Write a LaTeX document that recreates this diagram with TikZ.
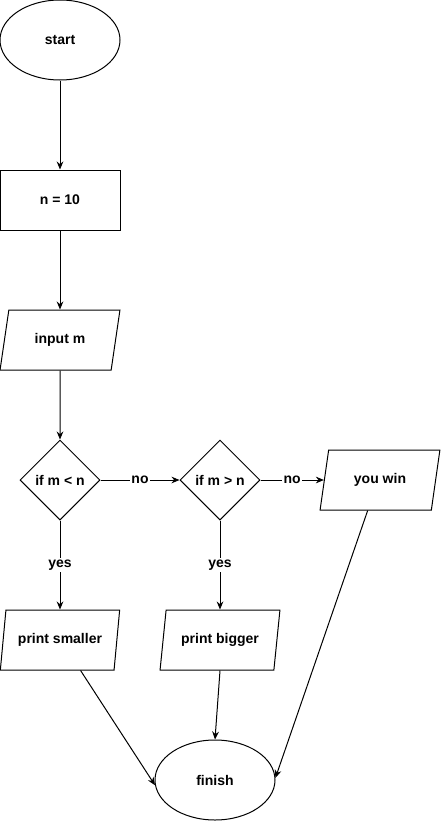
\documentclass[tikz,border=0pt]{standalone}
\usepackage{fontspec}
\setmainfont{Liberation Sans}
\usepackage{tikz}
\usetikzlibrary{arrows.meta,shapes.geometric}

\begin{document}
\begin{tikzpicture}[x=0.75pt, y=-0.75pt, line width=0.75pt,
    font=\fontsize{10.5}{12}\selectfont\bfseries,
    every node/.style={inner sep=0pt},
    term/.style={draw, ellipse, minimum width=90pt, minimum height=60pt},
    proc/.style={draw, rectangle, minimum width=90pt, minimum height=45pt},
    io/.style={draw, trapezium, trapezium left angle=71.57, trapezium right angle=108.43,
               trapezium stretches=true, minimum width=90pt, minimum height=45pt},
    cond/.style={draw, diamond, minimum width=60pt, minimum height=60pt},
    lbl/.style={fill=white, inner sep=1pt},
    arr/.style={-{Stealth[length=6pt,width=5pt]}}]
    % Rahmen
    \useasboundingbox (0,0) rectangle (441,821);

    % Knoten
    \node[term] (start) at (60,40) {start};
    \node[proc] (init) at (60,200) {n = 10};
    \node[io] (input) at (60,340) {input m};
    \node[cond] (less) at (60,480) {if m < n};
    \node[cond] (more) at (220,480) {if m > n};
    \node[io] (win) at (380,480) {you win};
    \node[io] (smaller) at (60,640) {print smaller};
    \node[io] (bigger) at (220,640) {print bigger};
    \node[term] (finish) at (215,780) {finish};

    % Verbindungen
    \draw[arr] (start) -- (init);
    \draw[arr] (init) -- (input);
    \draw[arr] (input) -- (less);
    \draw[arr] (less) -- node[lbl] {no} (more);
    \draw[arr] (more) -- node[lbl] {no} (win);
    \draw[arr] (less) -- node[lbl] {yes} (smaller);
    \draw[arr] (more) -- node[lbl] {yes} (bigger);
    \draw[arr] (smaller.-56) -- (finish.185);
    \draw[arr] (bigger.south) -- (finish.north);
    \draw[arr] (win.248) -- (finish.2);
\end{tikzpicture}
\end{document}
